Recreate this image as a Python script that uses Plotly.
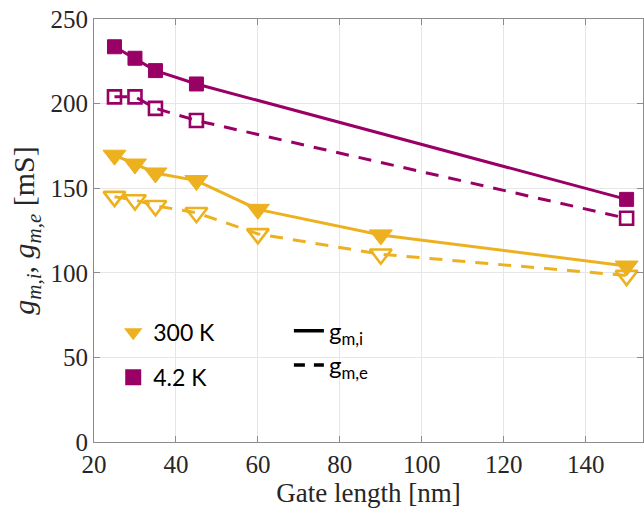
import plotly.graph_objects as go

# Gate lengths [nm]
gate_300k = [25, 30, 35, 45, 60, 90, 150]
gate_4k = [25, 30, 35, 45, 150]

# Transconductance [mS]: intrinsic (gm,i) and extrinsic (gm,e)
gmi_300k = [169.5, 164.3, 159.0, 154.5, 137.5, 122.4, 104.0]
gme_300k = [145.0, 143.0, 139.6, 135.5, 123.0, 111.0, 98.4]
gmi_4k = [233.6, 226.8, 219.5, 211.6, 143.4]
gme_4k = [204.0, 204.0, 197.2, 190.0, 132.2]

x_ticks = [20, 40, 60, 80, 100, 120, 140]
y_ticks = [0, 50, 100, 150, 200, 250]

ORANGE = "#EDB120"
PURPLE = "#990066"
DASH = "13px,10px"

fig = go.Figure()

# 300 K
fig.add_trace(go.Scatter(
    x=gate_300k, y=gmi_300k, mode="lines+markers", showlegend=False,
    line=dict(color=ORANGE, width=3),
    marker=dict(symbol="triangle-down", size=20, color=ORANGE,
                line=dict(color=ORANGE, width=1)),
))
fig.add_trace(go.Scatter(
    x=gate_300k, y=gme_300k, mode="lines+markers", showlegend=False,
    line=dict(color=ORANGE, width=3, dash=DASH),
    marker=dict(symbol="triangle-down-open", size=19,
                line=dict(color=ORANGE, width=2.6)),
))

# 4.2 K
fig.add_trace(go.Scatter(
    x=gate_4k, y=gmi_4k, mode="lines+markers", showlegend=False,
    line=dict(color=PURPLE, width=3),
    marker=dict(symbol="square", size=14, color=PURPLE,
                line=dict(color=PURPLE, width=1)),
))
fig.add_trace(go.Scatter(
    x=gate_4k, y=gme_4k, mode="lines+markers", showlegend=False,
    line=dict(color=PURPLE, width=3, dash=DASH),
    marker=dict(symbol="square-open", size=13,
                line=dict(color=PURPLE, width=2.6)),
))

# Legend: temperature markers
fig.add_trace(go.Scatter(
    x=[None], y=[None], mode="markers", name="300 K", legend="legend",
    legendgroup="a",
    marker=dict(symbol="triangle-down", size=22, color=ORANGE),
))
fig.add_trace(go.Scatter(
    x=[None], y=[None], mode="markers", name="4.2 K", legend="legend",
    legendgroup="b",
    marker=dict(symbol="square", size=16, color=PURPLE),
))

# Legend: line styles
fig.add_trace(go.Scatter(
    x=[None], y=[None], mode="lines", name="g<sub>m,i</sub>", legend="legend2",
    line=dict(color="black", width=3.5),
))
fig.add_trace(go.Scatter(
    x=[None], y=[None], mode="lines", name="g<sub>m,e</sub>", legend="legend2",
    line=dict(color="black", width=3.5, dash="11px,9px"),
))

axis_common = dict(
    showline=True, linecolor="#8c8c8c", linewidth=1.2, mirror="ticks",
    ticks="inside", ticklen=6, tickcolor="#8c8c8c",
    showgrid=True, gridcolor="#e6e6e6", gridwidth=1, zeroline=False,
    tickfont=dict(family="Liberation Serif", size=25, color="#262626"),
)

fig.update_layout(
    width=644, height=516,
    margin=dict(l=94, r=1, t=19, b=74),
    plot_bgcolor="white", paper_bgcolor="white",
    xaxis=dict(
        range=[20, 154], tickvals=x_ticks,
        title=dict(text="Gate length [nm]", standoff=6,
                   font=dict(family="Liberation Serif", size=27, color="#262626")),
        **axis_common,
    ),
    yaxis=dict(
        range=[0, 250], tickvals=y_ticks,
        title=dict(text="<i>g</i><sub><i>m,i</i></sub>, <i>g</i><sub><i>m,e</i></sub> [mS]",
                   standoff=6,
                   font=dict(family="Liberation Serif", size=30, color="#262626")),
        **axis_common,
    ),
    legend=dict(
        x=0.035, y=0.31, xanchor="left", yanchor="top",
        bgcolor="rgba(0,0,0,0)", tracegroupgap=12,
        font=dict(family="Lato", size=23, color="black"),
        itemsizing="trace",
    ),
    legend2=dict(
        x=0.355, y=0.315, xanchor="left", yanchor="top",
        bgcolor="rgba(0,0,0,0)",
        font=dict(family="Lato", size=24, color="black"),
    ),
)

fig.write_html("out.html")
